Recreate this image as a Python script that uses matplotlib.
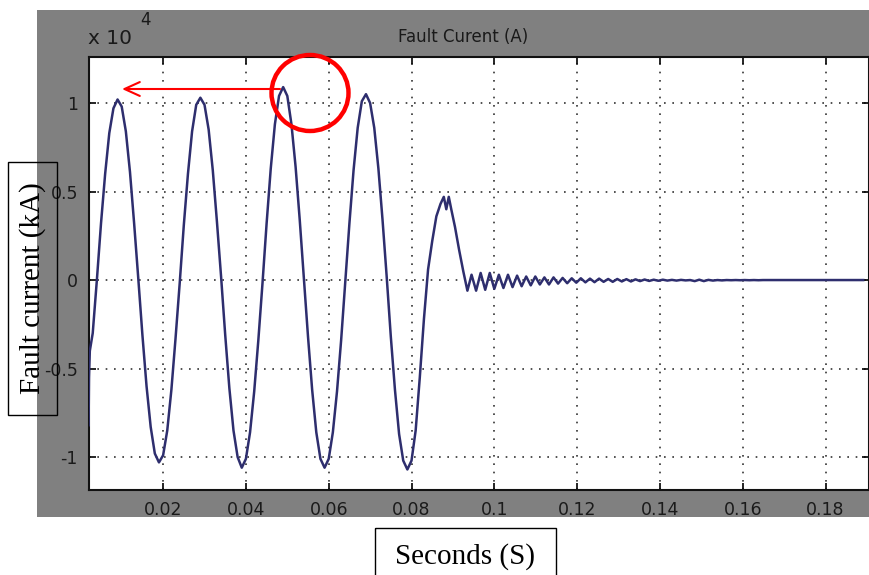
import numpy as np
import matplotlib
matplotlib.use('Agg')
import matplotlib.pyplot as plt
from matplotlib.patches import Rectangle, Ellipse

# values (current in units of 1e4 A)
head_t = [0.0020, 0.0021, 0.0023]
head_i = [-0.82, -0.55, -0.40]

# 1 ms samples 0.003 .. 0.083
cyc_t0, cyc_dt = 0.003, 0.001
cyc_i = [-0.30, 0.00, 0.32, 0.60, 0.83, 0.97, 1.02, 0.98, 0.84, 0.61,
         0.32, 0.01, -0.31, -0.60, -0.83, -0.98, -1.03, -0.99, -0.85, -0.62,
         -0.33, -0.02, 0.31, 0.60, 0.84, 0.99, 1.03, 0.99, 0.85, 0.62,
         0.33, 0.02, -0.31, -0.61, -0.85, -1.00, -1.06, -1.01, -0.86, -0.63,
         -0.34, -0.02, 0.32, 0.63, 0.88, 1.04, 1.09, 1.04, 0.88, 0.64,
         0.34, 0.01, -0.32, -0.62, -0.86, -1.01, -1.06, -1.01, -0.86, -0.63,
         -0.34, -0.01, 0.32, 0.62, 0.86, 1.01, 1.05, 1.00, 0.86, 0.63,
         0.34, 0.02, -0.32, -0.62, -0.87, -1.02, -1.07, -1.02, -0.85, -0.55,
         -0.22]

# breaker-opening hump
hump_t = [0.0840, 0.0850, 0.0860, 0.0870, 0.0878, 0.0884, 0.0890, 0.0896,
          0.0905, 0.0915, 0.0925, 0.0935]
hump_i = [0.06, 0.22, 0.36, 0.43, 0.47, 0.40, 0.47, 0.40,
          0.30, 0.17, 0.05, -0.06]

# residual ringing, samples every 1.1 ms from 0.0945
ring_t0, ring_dt = 0.0945, 0.0011
ring_i = [0.03, -0.06, 0.04, -0.055, 0.04, -0.05, 0.03, -0.045, 0.03, -0.04,
          0.025, -0.035, 0.02, -0.03, 0.02, -0.025, 0.015, -0.025, 0.015, -0.02,
          0.012, -0.018, 0.01, -0.015, 0.01, -0.013, 0.008, -0.012, 0.008, -0.01,
          0.006, -0.01, 0.006, -0.008, 0.005, -0.008, 0.004, -0.006, 0.003, -0.005,
          0.002, -0.004, 0.002, -0.003, 0.001, -0.003, 0.001, -0.002, 0.0, -0.006,
          0.002, -0.006, 0.001, -0.003, 0.0, -0.002, 0.0, -0.001, 0.0, -0.001,
          0.0, -0.001, 0.0, -0.001, 0.0, 0.0, 0.0, 0.0, 0.0, 0.0, 0.0,
          0.0, 0.0, 0.0, 0.0, 0.0, 0.0, 0.0, 0.0, 0.0, 0.0, 0.0, 0.0, 0.0, 0.0,
          0.0, 0.0]

xticks = [0.02, 0.04, 0.06, 0.08, 0.1, 0.12, 0.14, 0.16, 0.18]
xticklabels = ['0.02', '0.04', '0.06', '0.08', '0.1', '0.12', '0.14', '0.16', '0.18']
yticks = [-1, -0.5, 0, 0.5, 1]
yticklabels = ['-1', '-0.5', '0', '0.5', '1']

t = np.concatenate([head_t,
                    cyc_t0 + cyc_dt * np.arange(len(cyc_i)),
                    hump_t,
                    ring_t0 + ring_dt * np.arange(len(ring_i))])
cur = np.concatenate([head_i, cyc_i, hump_i, ring_i])

W, H = 869, 575
fig = plt.figure(figsize=(W / 100, H / 100), dpi=100)
fig.patch.set_facecolor('white')

# overlay in pixel coordinates (y down) for the grey background
ov = fig.add_axes([0, 0, 1, 1], facecolor='none', zorder=0)
ov.set_xlim(0, W)
ov.set_ylim(H, 0)
ov.axis('off')
ov.add_patch(Rectangle((37, 10), 832, 507, facecolor='#808080', edgecolor='none'))

ax = fig.add_axes([89 / W, 1 - 490 / H, (869 - 89) / W, (490 - 57) / H], zorder=1)
ax.set_facecolor('white')
ax.plot(t, cur, color='#2e2e6e', lw=1.8, zorder=3)
ax.set_xlim(0.0021, 0.1905)
ax.set_ylim(-1.186, 1.26)
ax.set_xticks(xticks)
ax.set_xticklabels(xticklabels)
ax.set_yticks(yticks)
ax.set_yticklabels(yticklabels)
ax.grid(True, linestyle=(0, (1, 4)), color='#333333', lw=1.2)
ax.tick_params(direction='in', length=5, width=1.2, top=True, right=True,
               labelsize=12.5, labelcolor='#1a1a1a', pad=8)
for s in ax.spines.values():
    s.set_linewidth(1.5)
    s.set_color('#111111')

# annotations on top
top = fig.add_axes([0, 0, 1, 1], facecolor='none', zorder=2)
top.set_xlim(0, W)
top.set_ylim(H, 0)
top.axis('off')

top.text(88, 39, 'x 10', fontsize=14.5, color='#1a1a1a', va='center')
top.text(140, 20, '4', fontsize=12, color='#1a1a1a', va='center')
top.text(463, 37, 'Fault Curent (A)', fontsize=12, color='#1a1a1a',
         ha='center', va='center')

top.add_patch(Ellipse((310, 93), 77, 76, fill=False, edgecolor='#ff0000', lw=3.2))
top.annotate('', xy=(122, 89), xytext=(280, 89),
             arrowprops=dict(arrowstyle='->,head_length=1.1,head_width=0.5',
                             color='#ff0000', lw=1.5, shrinkA=0, shrinkB=0))

# label boxes (Times-like)
top.add_patch(Rectangle((8, 162), 49, 253, fill=False, edgecolor='black', lw=1))
top.text(32.5, 288, 'Fault current (kA)', rotation=90, fontsize=21,
         family='Liberation Serif', ha='center', va='center')
top.add_patch(Rectangle((375, 528), 181, 60, fill=False, edgecolor='black', lw=1,
                        clip_on=False))
top.text(465, 557, 'Seconds (S)', fontsize=21, family='Liberation Serif',
         ha='center', va='center')

fig.savefig('out.png', dpi=100)
